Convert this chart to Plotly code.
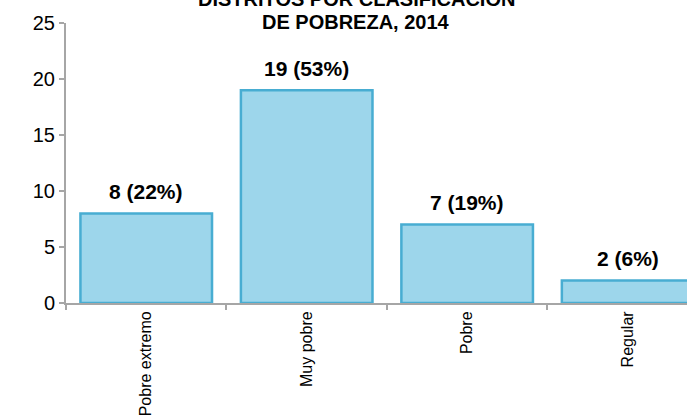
import plotly.graph_objects as go

categories = ["Pobre extremo", "Muy pobre", "Pobre", "Regular"]
values = [8, 19, 7, 2]
percents = ["22%", "53%", "19%", "6%"]
title_lines = ["DISTRITOS POR CLASIFICACIÓN", "DE POBREZA, 2014"]
y_ticks = [0, 5, 10, 15, 20, 25]

FONT = "Liberation Sans, Arial, sans-serif"
PLOT_TOP, PLOT_H = 23, 280

fig = go.Figure()
fig.add_trace(go.Bar(
    x=categories, y=values, width=0.82,
    marker=dict(color="#9DD6EB", line=dict(color="#48ADD2", width=2.5)),
    hoverinfo="skip",
))

for c, v, p in zip(categories, values, percents):
    fig.add_annotation(x=c, y=v, text=f"<b>{v} ({p})</b>", showarrow=False,
                       yanchor="middle", yshift=22,
                       font=dict(family=FONT, size=21, color="black"))

for line, ypx in zip(title_lines, [-2, 22]):
    fig.add_annotation(xref="paper", yref="paper", x=(356 - 66) / 621,
                       y=1 + (PLOT_TOP - ypx) / PLOT_H,
                       text=f"<b>{line}</b>", showarrow=False,
                       xanchor="center", yanchor="middle",
                       font=dict(family=FONT, size=20, color="black"))

fig.update_layout(
    width=687, height=416,
    margin=dict(l=66, r=0, t=PLOT_TOP, b=416 - PLOT_TOP - PLOT_H),
    paper_bgcolor="white", plot_bgcolor="white",
    showlegend=False,
    font=dict(family=FONT, color="black"),
)
fig.update_xaxes(
    range=[-0.5, 3.37], showline=True, linecolor="#A6A6A6", linewidth=2,
    ticks="outside", tickson="boundaries", ticklen=5, tickcolor="#A6A6A6", tickwidth=1.5,
    tickangle=-90, tickfont=dict(family=FONT, size=16, color="black"),
    showgrid=False, zeroline=False,
)
fig.update_yaxes(
    range=[0, 25], tickvals=y_ticks, showline=True, linecolor="#A6A6A6", linewidth=2,
    ticks="outside", ticklen=5, tickcolor="#A6A6A6", tickwidth=1.5,
    tickfont=dict(family=FONT, size=20, color="black"),
    showgrid=False, zeroline=False,
)

fig.write_html("out.html", config={"displayModeBar": False},
               post_script="document.body.style.margin='0';document.body.style.overflow='hidden';")
